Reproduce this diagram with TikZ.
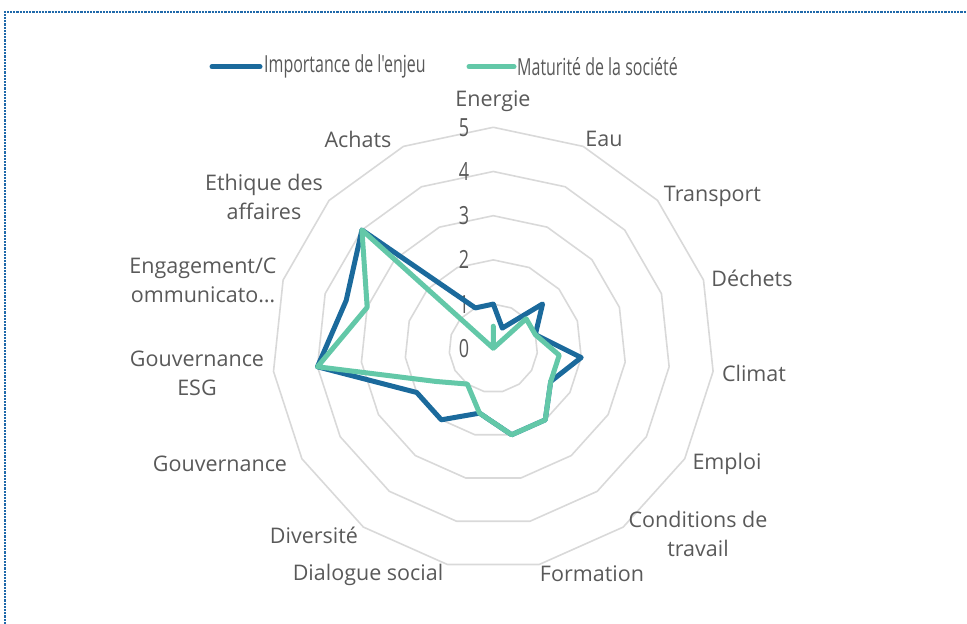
\documentclass[tikz,border=0pt]{standalone}
\usepackage{fontspec}
\setmainfont{Open Sans}
\newfontfamily\legfont{Open Sans}[Ligatures=TeXOff]
\definecolor{imp}{RGB}{27,106,156}
\definecolor{mat}{RGB}{99,200,168}
\definecolor{gridc}{RGB}{217,217,217}
\definecolor{txt}{RGB}{89,89,89}
\definecolor{framec}{RGB}{31,105,170}
\begin{document}
\begin{tikzpicture}[x=1pt,y=1pt,
  cat/.style={font=\fontsize{21.5}{29}\selectfont, text=txt, align=center, inner sep=0pt},
  tick/.style={font=\fontsize{25}{28}\selectfont, text=txt, inner sep=0pt},
  leg/.style={font=\legfont\fontsize{23.5}{26}\selectfont, text=txt, inner sep=0pt, anchor=west},
  ring/.style={draw=gridc, line width=1.6pt, line join=round},
  series/.style={line width=5pt, line join=round, line cap=round}]
\useasboundingbox (0,0) rectangle (967,624);
% frame (cut off at right and bottom)
\draw[framec, line width=2pt, dash pattern=on 2.2pt off 1pt] (4.7,0) -- (4.7,612.3) -- (967,612.3);
\begin{scope}[shift={(493.3,275.7)}]
  % grid rings
  \foreach \v in {1,...,5} {
    \draw[ring] (90:{\v*44.2}) \foreach \k in {1,...,14} { -- ({90-24*\k}:{\v*44.2}) } -- cycle;
  }
  % tick labels
  \foreach \v in {0,...,5} {
    \node[tick] (t\v) at ({-29.3},{\v*44.2}) {\scalebox{0.72}[1]{\v}};
  }
  % data coordinates
  \foreach \val [count=\k from 0] in {1,0.5,1.5,1,2,1.5,2,2,1.5,2,2,4,3.5,4,1}
    \coordinate (b\k) at ({90-24*\k}:{\val*44.2});
  \foreach \val [count=\k from 0] in {0.5,0,1,1,1.5,1.5,2,2,1.5,1,1.5,4,3,4,0}
    \coordinate (m\k) at ({90-24*\k}:{\val*44.2});
  \draw[series, imp] (b0) -- (b1) -- (b2) -- (b3) -- (b4) -- (b5) -- (b6) -- (b7) -- (b8) -- (b9) -- (b10) -- (b11) -- (b12) -- (b13) -- (b14) -- cycle;
  \draw[series, mat] (m0) -- (m1) -- (m2) -- (m3) -- (m4) -- (m5) -- (m6) -- (m7) -- (m8) -- (m9) -- (m10) -- (m11) -- (m12) -- (m13) -- (m14) -- cycle;
\end{scope}
% category labels
\node[cat] (c0) at (493,523) {Energie};
\node[cat] (c1) at (604,485) {Eau};
\node[cat] (c2) at (712.5,428) {Transport};
\node[cat] (c3) at (752,346) {Déchets};
\node[cat] (c4) at (754,251) {Climat};
\node[cat] (c5) at (727,160) {Emploi};
\node[cat] (c6) at (698,90) {Conditions de\\travail};
\node[cat] (c7) at (592,50) {Formation};
\node[cat] (c8) at (368,49) {Dialogue social};
\node[cat] (c9) at (314,89) {Diversité};
\node[cat] (c10) at (220,160) {Gouvernance};
\node[cat] (c11) at (197,251) {Gouvernance\\ESG};
\node[cat] (c12) at (203,344) {Engagement/C\\ommunicato…};
\node[cat] (c13) at (264,427) {Ethique des\\affaires};
\node[cat] (c14) at (358,485) {Achats};
% legend
\coordinate (l1a) at (212,557.3);
\coordinate (l1b) at (260,557.3);
\coordinate (l2a) at (469,557.3);
\coordinate (l2b) at (514,557.3);
\draw[imp, line width=5pt, line cap=round] (l1a) -- (l1b);
\node[leg] (lt1) at (264,557.3) {\scalebox{0.68}[1]{Importance de l'enjeu}};
\draw[mat, line width=5pt, line cap=round] (l2a) -- (l2b);
\node[leg] (lt2) at (517,557.3) {\scalebox{0.68}[1]{Maturité de la société}};
\end{tikzpicture}
\end{document}
